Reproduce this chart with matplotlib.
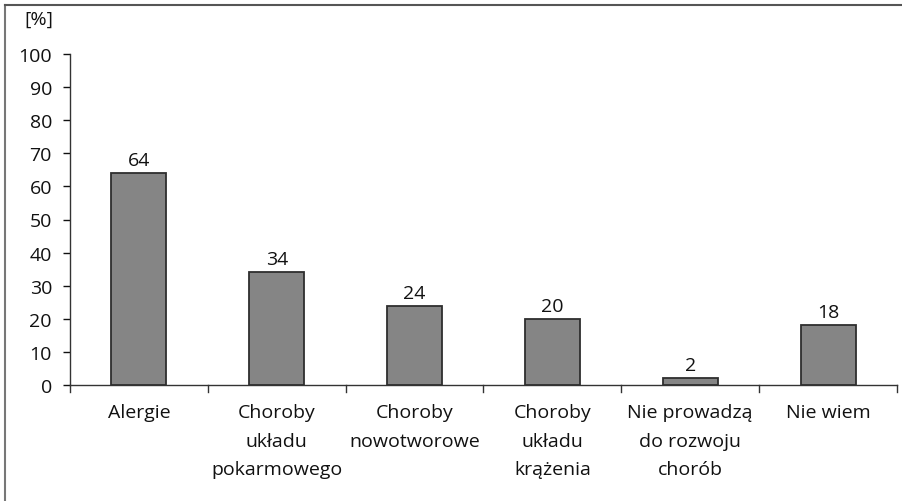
import matplotlib
matplotlib.use("Agg")
import matplotlib.pyplot as plt
from matplotlib.lines import Line2D

categories = ["Alergie", "Choroby\nukładu\npokarmowego", "Choroby\nnowotworowe",
              "Choroby\nukładu\nkrążenia", "Nie prowadzą\ndo rozwoju\nchorób", "Nie wiem"]
values = [64, 34, 24, 20, 2, 18]
yticks = list(range(0, 101, 10))

plt.rcParams["font.family"] = ["Open Sans", "DejaVu Sans"]
fs = 14
fig = plt.figure(figsize=(9.03, 5.02), dpi=100)
ax = fig.add_axes([70 / 903, 1 - 386 / 502, 827 / 903, 331 / 502])

x = list(range(len(categories)))
ax.bar(x, values, width=0.4, color="#858585", edgecolor="#2e2e2e", linewidth=1.3, zorder=3)
for xi, v in zip(x, values):
    ax.text(xi, v + 1.2, str(v), ha="center", va="bottom", fontsize=fs, color="#111111")

ax.set_xlim(-0.5, len(categories) - 0.5)
ax.set_ylim(0, 100)
ax.set_yticks(yticks)
ax.tick_params(axis="y", labelsize=fs, length=5, width=1, direction="out", pad=8, colors="#111111")
ax.set_xticks(x)
ax.set_xticklabels(categories, fontsize=fs, linespacing=1.75, color="#111111")
ax.tick_params(axis="x", length=0, pad=13)
# category separators on x-axis
for b in range(len(categories) + 1):
    ax.plot([b - 0.5, b - 0.5], [0, -2.2], color="#333333", lw=1, clip_on=False)

for s in ["top", "right"]:
    ax.spines[s].set_visible(False)
for s in ["left", "bottom"]:
    ax.spines[s].set_color("#333333")
    ax.spines[s].set_linewidth(1)

fig.text(24 / 903, 1 - 20 / 502, "[%]", fontsize=fs, va="center", ha="left", color="#111111")

# frame lines (left and top) of the figure box
fig.add_artist(Line2D([5 / 903, 5 / 903], [0, 1 - 6 / 502], color="#777777", lw=1.5,
                      transform=fig.transFigure))
fig.add_artist(Line2D([5 / 903, 1], [1 - 6 / 502, 1 - 6 / 502], color="#555555", lw=1.5,
                      transform=fig.transFigure))

fig.savefig("out.png", dpi=100)
